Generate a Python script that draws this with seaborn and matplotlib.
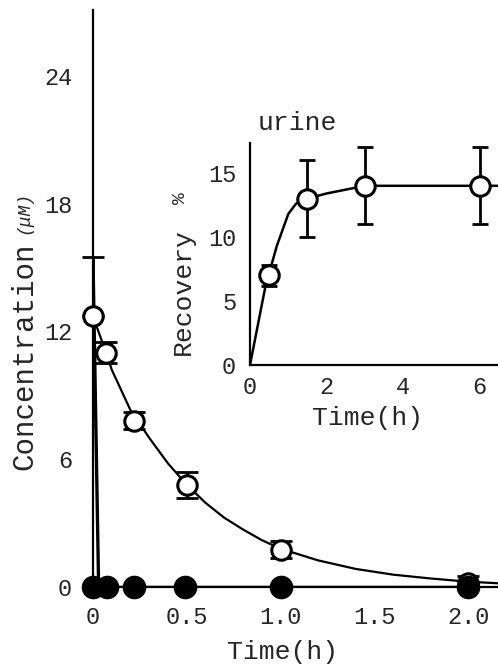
import numpy as np
import pandas as pd
import matplotlib
matplotlib.use("Agg")
import matplotlib.pyplot as plt
import seaborn as sns

# ---- data ----
open_t = [0.0, 0.07, 0.22, 0.5, 1.0, 2.0]
open_c = [12.7, 11.0, 7.8, 4.8, 1.75, 0.2]
open_err_low = [0.0, 0.5, 0.4, 0.6, 0.4, 0.3]
open_err_high = [2.8, 0.5, 0.4, 0.6, 0.4, 0.3]

filled_t = [0.0, 0.075, 0.22, 0.49, 1.0, 2.0]
filled_c = [0.0, 0.0, 0.0, 0.0, 0.0, 0.0]

spike_t = [-0.02, 0.0, 0.03]
spike_c = [0.0, 15.4, 0.0]

fit_t = [0.0, 0.07, 0.1, 0.2, 0.3, 0.4, 0.5, 0.6, 0.7, 0.8, 0.9, 1.0, 1.2, 1.4, 1.6, 1.8, 2.0, 2.17]
fit_c = [12.7, 11.0, 10.2, 8.3, 7.0, 5.8, 4.8, 3.95, 3.25, 2.7, 2.2, 1.8, 1.25, 0.85, 0.58, 0.4, 0.25, 0.17]

urine_t = [0.5, 1.5, 3.0, 6.0]
urine_r = [7.0, 13.0, 14.0, 14.0]
urine_err = [0.8, 3.0, 3.0, 3.0]

urine_fit_t = [0.0, 0.4, 0.7, 1.0, 1.2, 1.5, 2.0, 3.0, 6.0, 6.6]
urine_fit_r = [0.0, 6.1, 9.3, 11.8, 12.6, 13.0, 13.4, 14.0, 14.0, 14.0]

main_xticks = [0, 0.5, 1.0, 1.5, 2.0]
main_xticklabels = ["0", "0.5", "1.0", "1.5", "2.0"]
main_yticks = [0, 6, 12, 18, 24]
inset_xticks = [0, 2, 4, 6]
inset_yticks = [0, 5, 10, 15]

# ---- style ----
sns.set_theme(style="white")
plt.rcParams["font.family"] = ["Liberation Mono", "DejaVu Sans"]
plt.rcParams["axes.linewidth"] = 1.6

W, H = 498, 664
fig = plt.figure(figsize=(W / 100, H / 100), dpi=100)

# main axes
ax = fig.add_axes([93 / W, 1 - 587 / H, 1 - 93 / W, (587 - 10) / H])
ax.set_xlim(0, (498 - 92) / 188)
ax.set_ylim(0, (587 - 10) / 21.3)

fit_df = pd.DataFrame({"t": fit_t, "c": fit_c})
sns.lineplot(data=fit_df, x="t", y="c", ax=ax, color="black", lw=1.6, sort=False)
spike_df = pd.DataFrame({"t": spike_t, "c": spike_c})
sns.lineplot(data=spike_df, x="t", y="c", ax=ax, color="black", lw=2.4, sort=False)

ax.errorbar(open_t, open_c, yerr=[open_err_low, open_err_high], fmt="none",
            ecolor="black", elinewidth=2.0, capsize=8, capthick=2.0, zorder=3,
            clip_on=False)
ax.plot(open_t, open_c, "o", mfc="white", mec="black", mew=2.2, ms=14, zorder=5,
        clip_on=False)
filled_df = pd.DataFrame({"t": filled_t, "c": filled_c})
sns.lineplot(data=filled_df, x="t", y="c", ax=ax, color="black", lw=2.5, zorder=6)
ax.plot(filled_t, filled_c, "o", color="black", ms=16, zorder=7, clip_on=False)

for s in ["top", "right"]:
    ax.spines[s].set_visible(False)
ax.spines["left"].set_color("black")
ax.spines["bottom"].set_color("black")
ax.set_xticks(main_xticks)
ax.set_xticklabels(main_xticklabels)
ax.set_yticks(main_yticks)
ax.tick_params(direction="in", length=8, width=1.6, labelsize=17, color="black")
ax.tick_params(axis="y", pad=15)
ax.tick_params(axis="x", pad=14)
ax.set_xlabel("")
ax.set_ylabel("")
fig.text(283 / W, 1 - 652 / H, "Time(h)", fontsize=19, ha="center", va="center")
fig.text(24 / W, 1 - 356 / H, "Concentration", fontsize=21, rotation=90,
         ha="center", va="center")
fig.text(24 / W, 1 - 212 / H, "(μM)", fontsize=13, style="italic", rotation=90,
         ha="center", va="center")
ax.patch.set_alpha(0)

# inset axes
ix0, iy0, iy1 = 250, 365, 143
ins = fig.add_axes([ix0 / W, 1 - iy0 / H, (W - ix0) / W, (iy0 - iy1) / H])
ins.set_xlim(0, (W - ix0) / 38.3)
ins.set_ylim(0, (iy0 - iy1) / 12.8)
ufit_df = pd.DataFrame({"t": urine_fit_t, "r": urine_fit_r})
sns.lineplot(data=ufit_df, x="t", y="r", ax=ins, color="black", lw=1.8, sort=False)
ins.errorbar(urine_t, urine_r, yerr=urine_err, fmt="none", ecolor="black",
             elinewidth=2.0, capsize=6, capthick=2.0, zorder=3)
ins.plot(urine_t, urine_r, "o", mfc="white", mec="black", mew=2.2, ms=14,
         zorder=6, clip_on=False)
for s in ["top", "right"]:
    ins.spines[s].set_visible(False)
ins.spines["left"].set_color("black")
ins.spines["bottom"].set_color("black")
ins.set_xticks(inset_xticks)
ins.set_yticks(inset_yticks)
ins.tick_params(direction="in", length=8, width=1.6, labelsize=17, color="black")
ins.tick_params(axis="y", pad=10)
ins.tick_params(axis="x", pad=8)
ins.set_xlabel("")
ins.set_ylabel("")
ins.patch.set_alpha(0)
fig.text(368 / W, 1 - 418 / H, "Time(h)", fontsize=19, ha="center", va="center")
fig.text(183 / W, 1 - 292 / H, "Recovery", fontsize=19, rotation=90,
         ha="center", va="center")
fig.text(180 / W, 1 - 198 / H, "%", fontsize=14, rotation=90,
         ha="center", va="center")
fig.text(297 / W, 1 - 123 / H, "urine", fontsize=19, ha="center", va="center")

fig.savefig("out.png", dpi=100)
